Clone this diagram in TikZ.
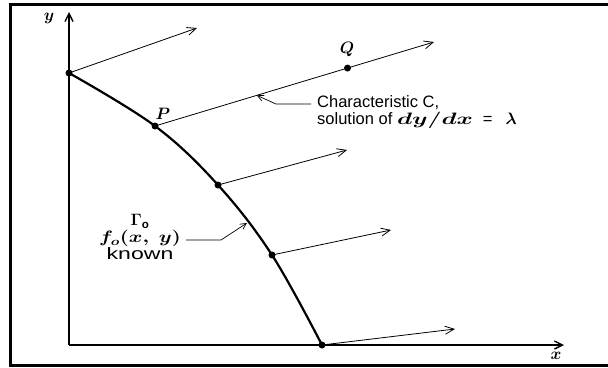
\RequirePackage{fix-cm}
\documentclass[tikz,border=0pt]{standalone}
\usepackage{fontspec}
\setmainfont{Liberation Sans}
\usepackage{amsmath}
\usepackage{graphicx}
\usetikzlibrary{arrows.meta,calc}
\newcommand{\lblfont}{\fontsize{16.5}{17}\selectfont}
\tikzset{
  frameline/.style={line width=3pt},
  axisline/.style={line width=1.4pt,-{Straight Barb[length=8pt,width=8pt]}},
  gammaline/.style={line width=2.2pt},
  charline/.style={line width=0.8pt,-{Straight Barb[length=9pt,width=8pt]}},
  leader/.style={line width=0.7pt,-{Straight Barb[length=6pt,width=6pt]}},
  ptdot/.style={circle,fill,inner sep=0pt,minimum size=7pt},
  lbl/.style={font=\lblfont,inner sep=0pt}
}
\newcommand{\widemath}[2][1.45]{\scalebox{#1}[1]{$\boldsymbol{#2}$}}

\begin{document}
\begin{tikzpicture}[x=1pt,y=-1pt]
  \useasboundingbox (0,0) rectangle (608,367);
  \draw[frameline] (608,4) -- (10,4) -- (10,365) -- (608,365);

  % axes
  \coordinate (o) at (69,345);
  \coordinate (ytop) at (69,12);
  \coordinate (xend) at (564,345);
  \draw[axisline] (o) -- (ytop);
  \draw[axisline] (o) -- (xend);
  \node[lbl] (ylab) at (49,18) {$\boldsymbol{y}$};
  \node[lbl] (xlab) at (556,356) {$\boldsymbol{x}$};

  % initial curve and characteristics
  \foreach \n/\p/\t in {g0/{69,73}/{197,28},p/{155,126}/{434,42},g2/{218,185}/{347,150},
                        g3/{272,255}/{391,230},g4/{322,345}/{455,329}}
  {
    \coordinate (\n) at (\p);
    \coordinate (\n-tip) at (\t);
    \draw[charline] (\n) -- (\n-tip);
  }
  \draw[gammaline] plot[smooth,tension=0.6] coordinates {(g0) (p) (g2) (g3) (g4)};
  \coordinate (q) at ($(p)!0.69!(p-tip)$);
  \foreach \n in {g0,p,g2,g3,g4,q}
    \node[ptdot] (\n-dot) at (\n) {};
  \node[lbl] (plab) at (163,114) {$\boldsymbol{P}$};
  \node[lbl] (qlab) at (347,49) {$\boldsymbol{Q}$};

  % labels with leaders
  \node[lbl,align=left,anchor=west] (clab) at (317,112)
    {Characteristic C,\\ solution of \widemath[1.5]{dy/dx}\hspace{10pt}=\hspace{13pt}$\boldsymbol{\lambda}$};
  \coordinate (cstart) at (311,104);
  \coordinate (cbend) at (276,104);
  \coordinate (ctip) at ($(p)!0.365!(p-tip)$);
  \draw[leader] (cstart) -- (cbend) -- (ctip);

  \node[lbl,align=center] (glab) at (140,237)
    {$\boldsymbol{\Gamma}_{\mathbf{o}}$\\ \widemath[1.25]{f_{o}(x,\ y)}\\ \scalebox{1.4}[1]{known}};
  \coordinate (gstart) at (186,240);
  \coordinate (gbend) at (221,240);
  \coordinate (gtip) at (247,223);
  \draw[leader] (gstart) -- (gbend) -- (gtip);
\end{tikzpicture}
\end{document}
